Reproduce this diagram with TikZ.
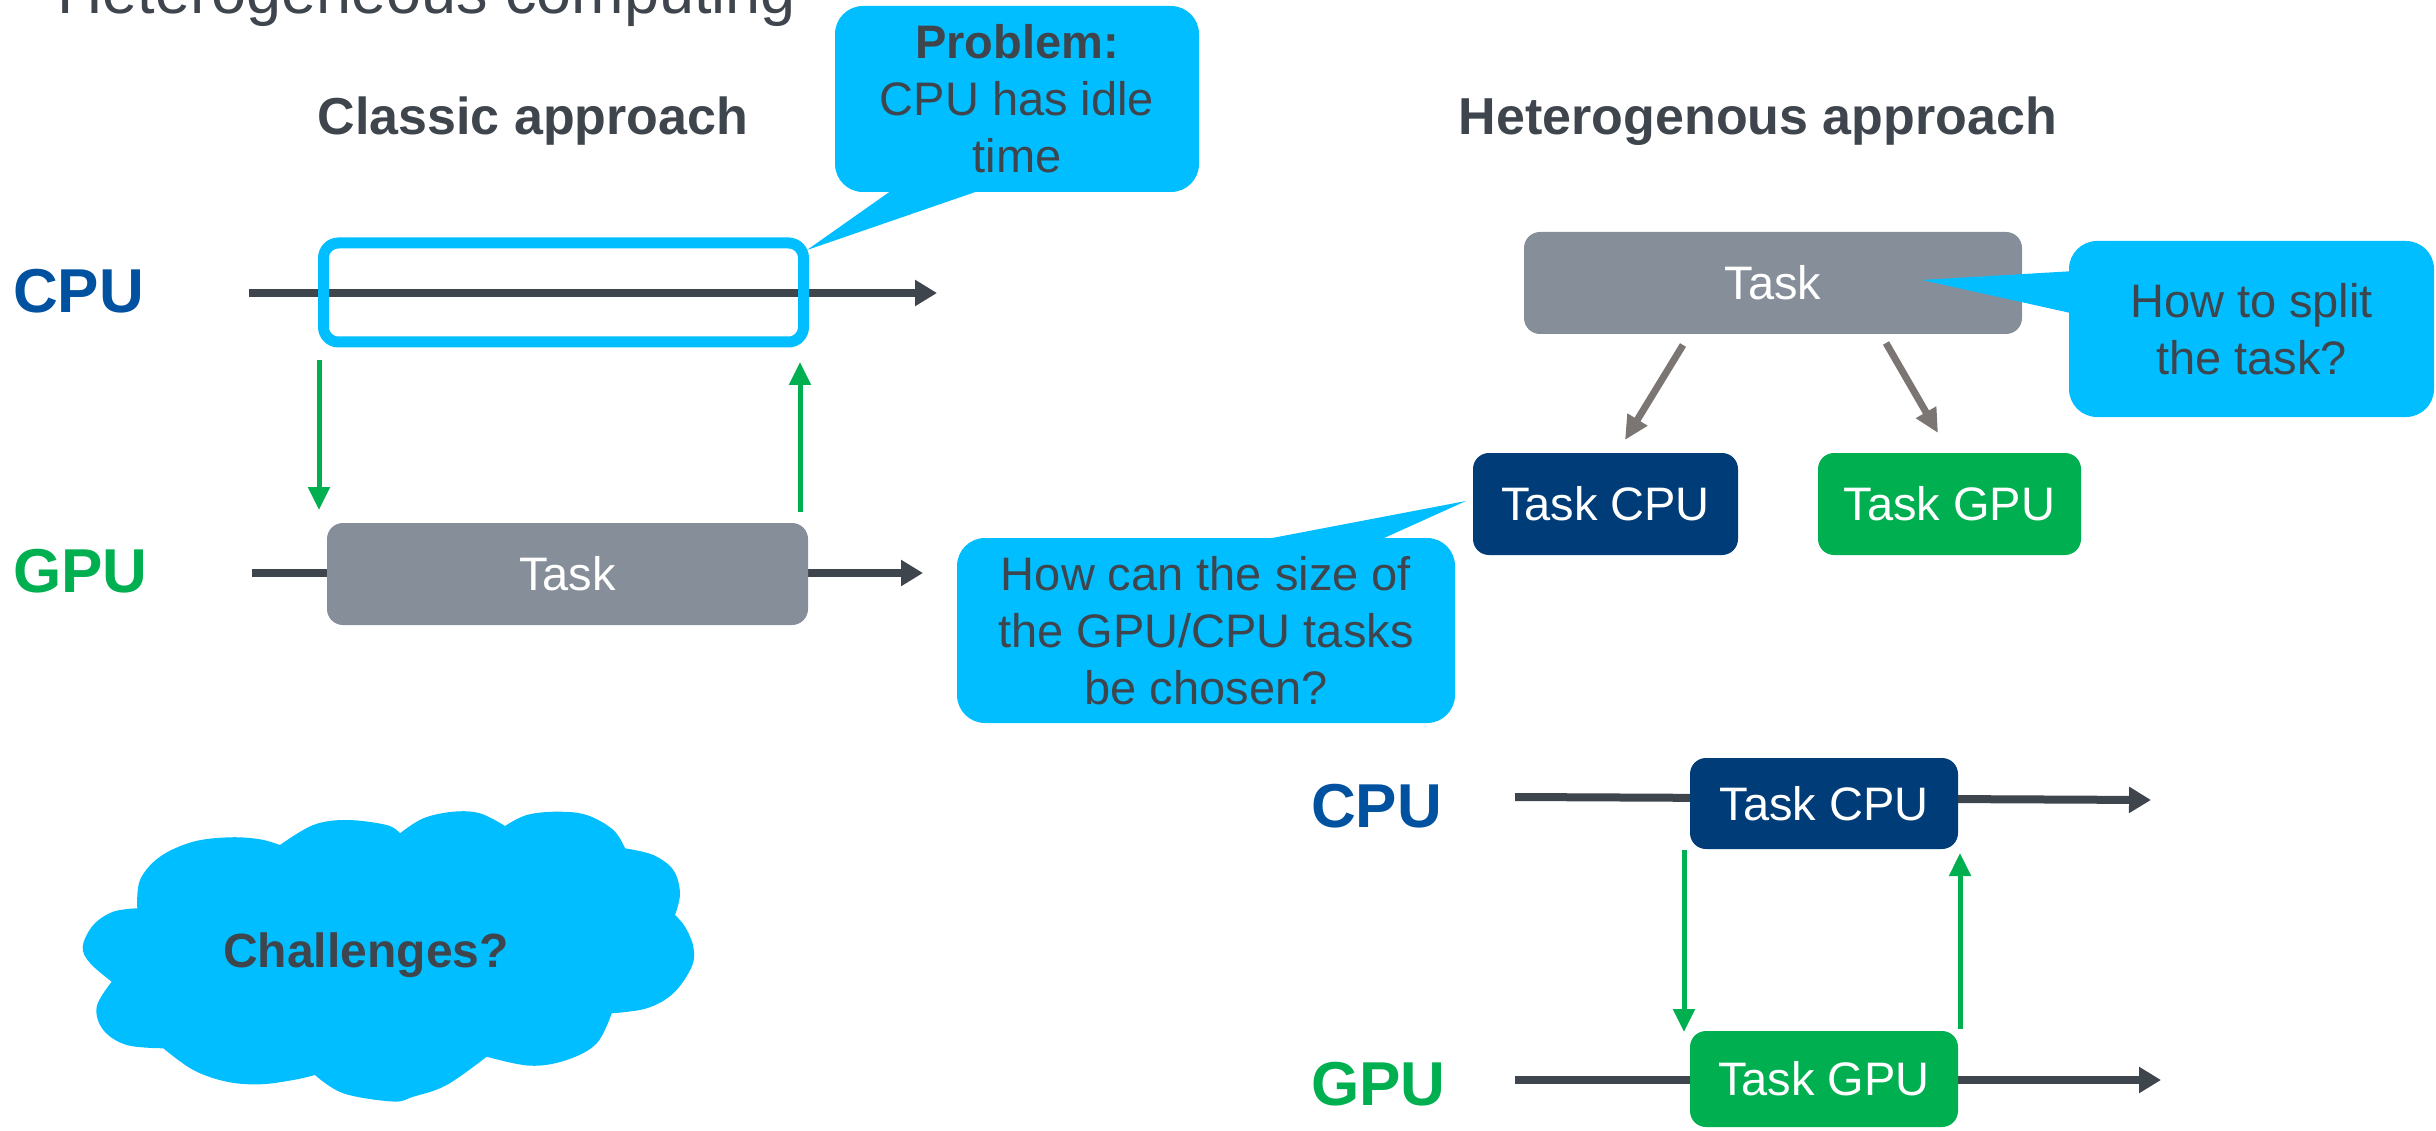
\documentclass[tikz,border=0pt]{standalone}
\usepackage{fontspec}
\setmainfont{Liberation Sans}
\usetikzlibrary{arrows.meta,calc}

\definecolor{ink}{RGB}{63,69,76}
\definecolor{sky}{RGB}{0,190,255}
\definecolor{slate}{RGB}{134,142,153}
\definecolor{navy}{RGB}{0,61,120}
\definecolor{leaf}{RGB}{0,176,80}
\definecolor{cpublue}{RGB}{0,82,160}
\definecolor{taupe}{RGB}{123,117,115}

\newcommand\fBody{\fontsize{47}{57}\selectfont}
\newcommand\fHead{\fontsize{52}{62}\selectfont\bfseries}
\newcommand\fLab{\fontsize{62}{74}\selectfont\bfseries}
\newcommand\fTitle{\fontsize{63}{75}\selectfont}

\tikzset{
  tbox/.style={rounded corners=16pt, inner sep=0pt, text=white, font=\fBody},
  bubble/.style={fill=sky, rounded corners=28pt, inner sep=0pt, text=ink, font=\fBody, align=center},
  tip/.style={fill=sky},
  timeline/.style={line width=8pt, draw=ink, -{Triangle[length=22pt,width=25pt]}},
  sync/.style={line width=5pt, draw=leaf, -{Triangle[length=23pt,width=21pt]}},
  split/.style={line width=7pt, draw=taupe, -{Triangle[length=24pt,width=22pt]}},
  label/.style={anchor=base west, inner sep=0pt, font=\fLab},
  puff/.style={smooth, tension=0.6},
}

\begin{document}
\begin{tikzpicture}[x=1pt, y=-1pt]
\useasboundingbox (0,0) rectangle (2436,1131);
\clip (0,0) rectangle (2436,1131);

% headings
\node[anchor=base west, inner sep=0pt, text=ink, font=\fTitle] (title) at (57,14) {Heterogeneous computing};
\node[anchor=base, inner sep=0pt, text=ink, font=\fHead] (hclassic) at (533,135) {Classic approach};
\node[anchor=base, inner sep=0pt, text=ink, font=\fHead] (hhetero) at (1758,135) {Heterogenous approach};

% ---------- classic approach ----------
\node[label, text=cpublue] (cpuA) at (13,313) {CPU};
\node[label, text=leaf] (gpuA) at (13,592) {GPU};

\coordinate (cpuA0) at (249,293);
\coordinate (cpuA1) at (937,293);
\coordinate (gpuA0) at (252,573);
\coordinate (gpuA1) at (923,573);
\draw[timeline] (cpuA0) -- (cpuA1);
\draw[timeline] (gpuA0) -- (gpuA1);

\node[draw=sky, line width=11pt, rounded corners=15pt, inner sep=0pt,
      minimum width=480pt, minimum height=99pt] (idle) at (563.5,292.5) {};
\node[tbox, fill=slate, minimum width=481pt, minimum height=102pt] (taskA) at (567.5,574) {Task};

\coordinate (downA0) at (319,360);
\coordinate (downA1) at (319,510);
\coordinate (upA0) at (800,512);
\coordinate (upA1) at (800,362);
\draw[sync] (downA0) -- (downA1);
\draw[sync] (upA0) -- (upA1);

% problem bubble
\node[bubble, minimum width=364pt, minimum height=186pt] (problem) at (1017,99)
  {\textbf{Problem:}\\CPU has idle\\time};
\coordinate (problemTip) at (807,250);
\fill[tip] (895,188) -- (987,188) -- (problemTip) -- cycle;

% ---------- heterogeneous approach ----------
\node[tbox, fill=slate, minimum width=498pt, minimum height=102pt] (taskB) at (1773,283) {Task};
\node[tbox, fill=navy, minimum width=265pt, minimum height=102pt] (taskBcpu) at (1605.5,504) {Task CPU};
\node[tbox, fill=leaf, minimum width=263pt, minimum height=102pt] (taskBgpu) at (1949.5,504) {Task GPU};

\coordinate (splitL0) at (1683,345);
\coordinate (splitL1) at (1625,440);
\coordinate (splitR0) at (1886,343);
\coordinate (splitR1) at (1938,433);
\draw[split] (splitL0) -- (splitL1);
\draw[split] (splitR0) -- (splitR1);

% split bubble
\node[bubble, minimum width=365pt, minimum height=176pt] (howsplit) at (2251.5,329)
  {How to split\\the task?};
\coordinate (howsplitTip) at (1922,280);
\fill[tip] (2075,271) -- (2075,314) -- (howsplitTip) -- cycle;

% size bubble
\node[bubble, minimum width=498pt, minimum height=185pt] (howsize) at (1206,630.5)
  {How can the size of\\the GPU/CPU tasks\\be chosen?};
\coordinate (howsizeTip) at (1466,501);
\fill[tip] (1246,543) -- (1373,543) -- (howsizeTip) -- cycle;

% timelines of the split task
\node[label, text=cpublue] (cpuB) at (1311,827) {CPU};
\node[label, text=leaf] (gpuB) at (1311,1105) {GPU};

\coordinate (cpuB0) at (1515,797);
\coordinate (cpuB1) at (2151,800);
\coordinate (gpuB0) at (1515,1080);
\coordinate (gpuB1) at (2161,1080);
\draw[timeline] (cpuB0) -- (cpuB1);
\draw[timeline] (gpuB0) -- (gpuB1);

\node[tbox, fill=navy, minimum width=268pt, minimum height=91pt] (taskCcpu) at (1824,803.5) {Task CPU};
\node[tbox, fill=leaf, minimum width=268pt, minimum height=96pt] (taskCgpu) at (1824,1079) {Task GPU};

\coordinate (downB0) at (1684,850);
\coordinate (downB1) at (1684,1032);
\coordinate (upB0) at (1960,1029);
\coordinate (upB1) at (1960,853);
\draw[sync] (downB0) -- (downB1);
\draw[sync] (upB0) -- (upB1);

% ---------- challenges cloud: one smooth puff between each pair of notches ----------
\fill[sky]
  plot[puff] coordinates {(137.3,908.3) (140,880) (160,856.7) (193.3,841.7) (230,837.3) (260,839.3) (280,845)}
  -- plot[puff] coordinates {(280,845) (313.3,825) (346.7,820) (386.7,825) (400,833.3)}
  -- plot[puff] coordinates {(400,833.3) (423.3,818.3) (453.3,811.7) (480,813.3) (505,826)}
  -- plot[puff] coordinates {(505,826) (526.7,815) (556.7,811.7) (586.7,815) (613.3,830) (625,848.3)}
  -- plot[puff] coordinates {(625,848.3) (653.3,855) (673.3,870) (680,893.3) (675,915)}
  -- plot[puff] coordinates {(675,915) (685,926.7) (693.3,946.7) (691.7,966.7) (673.3,993.3) (646.7,1008.3) (611.7,1013.3)}
  -- plot[puff] coordinates {(611.7,1013.3) (596.7,1043.3) (566.7,1060) (530,1065.7) (486.7,1056.7)}
  -- plot[puff] coordinates {(486.7,1056.7) (446.7,1085) (413.3,1096.7) (393,1101.5) (343.3,1093.3) (315,1075)}
  -- plot[puff] coordinates {(315,1075) (293.3,1080) (260,1084.3) (226.7,1081.7) (193.3,1070) (163.3,1048.3)}
  -- plot[puff] coordinates {(163.3,1048.3) (126.7,1045) (103.3,1030) (96.7,1006.7) (111.7,981.7)}
  -- plot[puff] coordinates {(111.7,981.7) (90,963) (82.7,946.7) (93.3,925) (113.3,911.7) (137.3,908.3)}
  -- cycle;
\node[anchor=base, inner sep=0pt, text=ink, font=\fontsize{48}{58}\selectfont\bfseries] (challenges) at (366,967) {Challenges?};
\end{tikzpicture}
\end{document}
